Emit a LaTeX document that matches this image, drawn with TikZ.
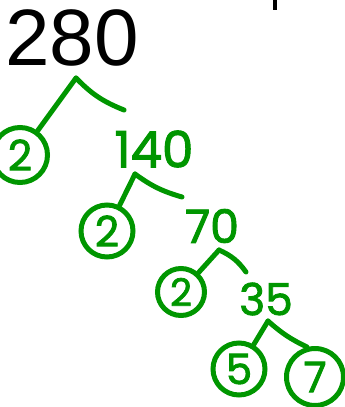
\documentclass[tikz,border=0pt]{standalone}
\usepackage{fontspec}
\setmainfont{Liberation Sans}
\newfontfamily\handfont[FakeBold=2]{Poppins}
\definecolor{inkgreen}{RGB}{0,150,0}
\begin{document}
\begin{tikzpicture}[x=1pt,y=-1pt,
  ink/.style={draw=inkgreen,line width=5pt,line cap=round,line join=round},
  factor/.style={circle,draw=inkgreen,line width=5pt,inner sep=0pt,text=inkgreen,
    font=\handfont\fontsize{42}{42}\selectfont},
  quotient/.style={inner sep=0pt,text=inkgreen,font=\handfont\fontsize{50}{50}\selectfont}]
\useasboundingbox (0,0) rectangle (345,407);
% top number
\node[inner sep=0pt,font=\fontsize{80}{80}\selectfont] (n280) at (72,38) {280};
\fill (273,0) rectangle (277,10);
% first split
\coordinate (a1) at (76,78);
\coordinate (r1) at (124,110);
\node[factor,minimum size=55pt] (c1) at (20,155) {2};
\draw[ink] (c1) -- (a1);
\draw[ink] (a1) to[bend right=12] (r1);
\node[quotient] (n140) at (154,149) {140};
% second split
\coordinate (a2) at (135,174);
\coordinate (r2) at (182,197);
\node[factor,minimum size=52pt] (c2) at (107,231) {2};
\draw[ink] (c2) -- (a2);
\draw[ink] (a2) to[bend right=10] (r2);
\node[quotient,font=\handfont\fontsize{46}{46}\selectfont] (n70) at (212,226) {70};
% third split
\coordinate (a3) at (219,250);
\coordinate (r3) at (246,272);
\node[factor,minimum size=47pt,font=\handfont\fontsize{38}{38}\selectfont] (c3) at (181,292) {2};
\draw[ink] (c3) -- (a3);
\draw[ink] (a3) to[bend left=15] (r3);
\node[quotient,font=\handfont\fontsize{44}{44}\selectfont] (n35) at (266,299) {35};
% last split
\coordinate (a4) at (268,321);
\node[factor,minimum size=52pt] (c4) at (239,369) {5};
\node[factor,minimum size=57pt] (c5) at (315,377) {7};
\draw[ink] (c4) -- (a4);
\draw[ink] (a4) to[bend right=8] (307,347);
\end{tikzpicture}
\end{document}
